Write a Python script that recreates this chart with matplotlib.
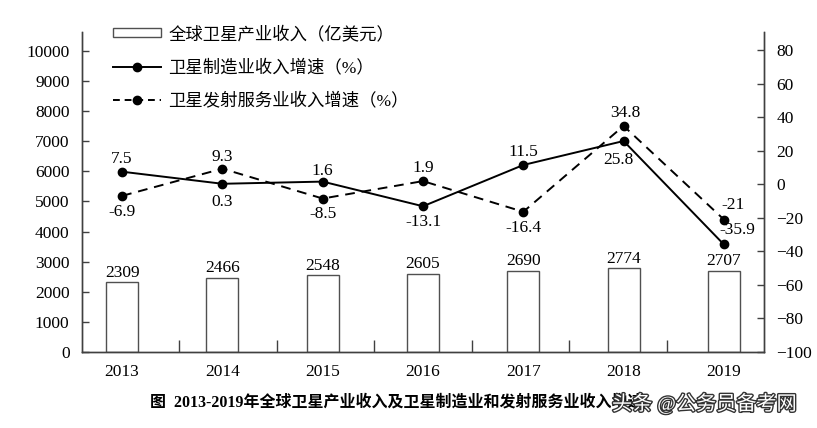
import matplotlib
matplotlib.use("Agg")
import matplotlib.pyplot as plt
import matplotlib.patheffects as pe
from matplotlib.patches import Patch
from matplotlib.lines import Line2D
import numpy as np

plt.rcParams['font.family'] = ['Liberation Serif', 'Noto Sans CJK SC']

years = ["2013", "2014", "2015", "2016", "2017", "2018", "2019"]
revenue = [2309, 2466, 2548, 2605, 2690, 2774, 2707]
manufacturing = [7.5, 0.3, 1.6, -13.1, 11.5, 25.8, -35.9]
launch = [-6.9, 9.3, -8.5, 1.9, -16.4, 34.8, -21]

left_ticks = list(range(0, 10001, 1000))
right_ticks = list(range(-100, 81, 20))

label_bar = "全球卫星产业收入（亿美元）"
label_manu = "卫星制造业收入增速（%）"
label_launch = "卫星发射服务业收入增速（%）"
caption = "图  2013-2019年全球卫星产业收入及卫星制造业和发射服务业收入增速"
watermark = "头条 @公务员备考网"

# label offsets in pixels (dx, dy), converted to points below
manu_off = [(0, 13), (0, -18), (0, 11), (0, -16), (0, 13), (-5, -19), (13, 14)]
launch_off = [(0, -16), (0, 12), (0, -15), (0, 13), (0, -16), (2, 13), (9, 15)]

spine_col = "#404040"
fs = 12.5

fig = plt.figure(figsize=(8.17, 4.28), dpi=100)
ax = fig.add_axes([82 / 817, 1 - 352 / 428, (764 - 82) / 817, (352 - 32) / 428])
ax2 = ax.twinx()

x = np.arange(len(years))
ax.bar(x, revenue, width=0.32, facecolor="white", edgecolor="#505050", linewidth=1.0)
for xi, v in zip(x, revenue):
    ax.annotate(str(v), (xi, v), xytext=(0, 7), textcoords="offset points",
                ha="center", va="center", fontsize=fs)

ax2.plot(x, manufacturing, color="black", linewidth=1.4, marker="o", markersize=6)
ax2.plot(x, launch, color="black", linewidth=1.4, marker="o", markersize=6,
         linestyle=(0, (5, 3.5)))
for xi, v, (dx, dy) in zip(x, manufacturing, manu_off):
    ax2.annotate(f"{v:g}", (xi, v), xytext=(dx * 0.72, dy * 0.72),
                 textcoords="offset points", ha="center", va="center", fontsize=fs)
for xi, v, (dx, dy) in zip(x, launch, launch_off):
    ax2.annotate(f"{v:g}", (xi, v), xytext=(dx * 0.72, dy * 0.72),
                 textcoords="offset points", ha="center", va="center", fontsize=fs)

ax.set_xlim(-0.4, 6.4)
ax.set_ylim(0, 10630)
ax2.set_ylim(-100, 90.8)
ax.set_yticks(left_ticks)
ax2.set_yticks(right_ticks)
ax.set_xticks(x)
ax.set_xticklabels(years)
ax.set_xticks(np.linspace(-0.4, 6.4, 8)[1:-1], minor=True)

for a in (ax, ax2):
    a.spines["top"].set_visible(False)
    for s in ("left", "right", "bottom"):
        a.spines[s].set_color(spine_col)
        a.spines[s].set_linewidth(1.0)
    a.tick_params(axis="y", direction="in", length=5, width=1.0, color=spine_col,
                  labelsize=fs, pad=9)
ax.tick_params(axis="x", which="major", length=0, labelsize=fs, pad=9)
ax.tick_params(axis="x", which="minor", direction="in", length=9, width=1.0,
               color=spine_col)

handles = [
    Patch(facecolor="white", edgecolor="#505050", linewidth=1.0),
    Line2D([], [], color="black", linewidth=1.4, marker="o", markersize=6),
    Line2D([], [], color="black", linewidth=1.4, marker="o", markersize=6,
           linestyle=(0, (3.5, 2.5))),
]
fig.legend(handles, [label_bar, label_manu, label_launch], loc="upper left",
           bbox_to_anchor=(113 / 817, 1 - 26 / 428), frameon=False, fontsize=12.5,
           handlelength=2.75, handleheight=0.45, handletextpad=0.45,
           labelspacing=0.95, borderpad=0, borderaxespad=0)

fig.text(150 / 817, 1 - 403 / 428, caption, ha="left", va="center",
         fontsize=11.5, fontweight="bold")
fig.text(612 / 817, 1 - 404 / 428, watermark, ha="left", va="center",
         fontsize=14.5, color="white", zorder=5,
         path_effects=[pe.withStroke(linewidth=2, foreground="#333333")])

fig.savefig("out.png", dpi=100)
